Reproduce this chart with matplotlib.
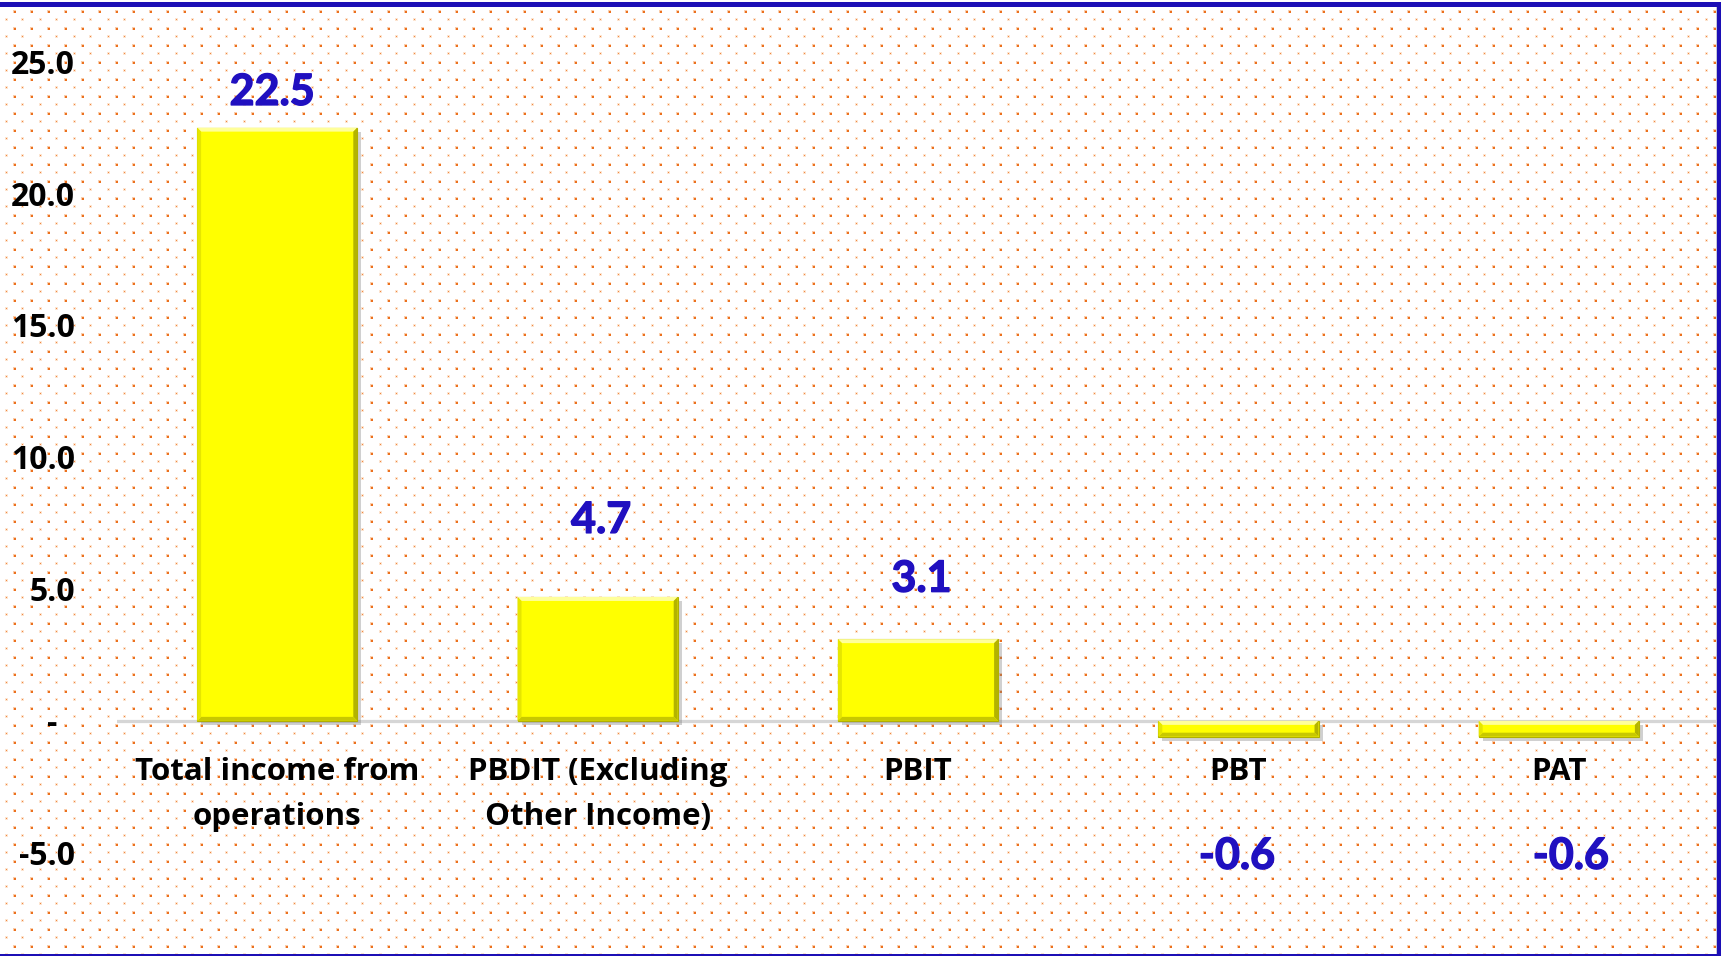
import matplotlib
matplotlib.use("Agg")
import matplotlib.pyplot as plt
import numpy as np
from matplotlib import patheffects as pe
from matplotlib.patches import Rectangle, Polygon
from matplotlib.transforms import blended_transform_factory, ScaledTranslation, IdentityTransform

# ---------------- data ----------------
categories = ["Total income from\noperations", "PBDIT (Excluding\nOther Income)", "PBIT", "PBT", "PAT"]
values = [22.5, 4.7, 3.1, -0.6, -0.6]
value_labels = ["22.5", "4.7", "3.1", "-0.6", "-0.6"]
yticks = [-5, 0, 5, 10, 15, 20, 25]
ytick_labels = ["-5.0", "-", "5.0", "10.0", "15.0", "20.0", "25.0"]

# ---------------- style / layout ----------------
W, H, DPI = 1721, 956, 100
FONT = "Lato"
CAT_FONT = "Open Sans"
label_base_y = [23.36, 7.13, 4.90, -5.61, -5.61]   # data-label baselines (data units)
label_dx_px = [-5, 3.5, 3.5, -1.5, 12]              # horizontal nudges (pixels)
BLUE_LBL = "#2010C0"
BAR_YELLOW = "#FFFF00"
BORDER_BLUE = "#1C0FB5"

fig = plt.figure(figsize=(W / DPI, H / DPI), dpi=DPI)
fig.patch.set_facecolor("white")

# dotted pattern background (texture)
img = np.ones((H, W, 3))
big = np.array([235, 112, 30]) / 255
big_halo = np.array([250, 205, 170]) / 255
small = np.array([240, 135, 65]) / 255
small_halo = np.array([252, 228, 208]) / 255
for yy in np.arange(10.7, H, 17.0):
    for xx in np.arange(14.0, W, 17.0):
        yi, xi = int(round(yy)), int(round(xx))
        img[max(yi - 1, 0):yi + 2, max(xi - 1, 0):xi + 2] = big_halo
        img[yi:yi + 2, xi:xi + 2] = big
for yy in np.arange(19.2, H, 17.0):
    for xx in np.arange(5.5, W, 17.0):
        yi, xi = int(round(yy)), int(round(xx))
        img[max(yi - 1, 0):yi + 2, max(xi - 1, 0):xi + 2] = small_halo
        img[yi:yi + 1, xi:xi + 1] = small
img = np.clip(img, 0, 1)
fig.figimage(img, xo=0, yo=0, origin="upper", zorder=0)

# main axes
ax_left, ax_right = 117 / W, 1719 / W
ax_bottom = 103.3 / H
ax_height = 791.0 / H
ax = fig.add_axes([ax_left, ax_bottom, ax_right - ax_left, ax_height])
ax.set_zorder(2)
ax.set_facecolor("none")
ax.patch.set_alpha(0)
ax.set_xlim(-0.5, len(categories) - 0.5)
ax.set_ylim(-5, 25)
for s in ax.spines.values():
    s.set_visible(False)
ax.set_xticks([])
ax.set_yticks([])

x = np.arange(len(categories))
ax.axhline(0, color="#D6D6D6", lw=2.3, zorder=1)

bars = ax.bar(x, values, width=0.5, color=BAR_YELLOW, edgecolor="#B0B000", linewidth=0.8, zorder=3)
for b in bars:
    b.set_path_effects([pe.SimplePatchShadow(offset=(3, -3), shadow_rgbFace="#7a7a7a", alpha=0.35),
                        pe.Normal()])

# bevel effect derived from each bar's geometry
fig.canvas.draw()
bw = 4.0
for b in bars:
    (x0, y0), (x1, y1) = ax.transData.transform([(b.get_x(), min(b.get_y(), b.get_y() + b.get_height())),
                                                 (b.get_x() + b.get_width(), max(b.get_y(), b.get_y() + b.get_height()))])
    bb = min(bw, (y1 - y0) / 2.0)
    polys = [
        ([(x0, y1), (x1, y1), (x1 - bb, y1 - bb), (x0 + bb, y1 - bb)], "#FFFF9A"),
        ([(x1, y1), (x1, y0), (x1 - bb, y0 + bb), (x1 - bb, y1 - bb)], "#B3B300"),
        ([(x0, y0), (x1, y0), (x1 - bb, y0 + bb), (x0 + bb, y0 + bb)], "#C8C800"),
        ([(x0, y0), (x0, y1), (x0 + bb, y1 - bb), (x0 + bb, y0 + bb)], "#E6E600"),
    ]
    for pts, col in polys:
        p = Polygon(pts, closed=True, facecolor=col, edgecolor="none", transform=IdentityTransform(), zorder=4)
        fig.add_artist(p)

# data labels
for i, (lab, by, dx) in enumerate(zip(value_labels, label_base_y, label_dx_px)):
    tr = ax.transData + ScaledTranslation(dx / DPI, 0, fig.dpi_scale_trans)
    t = ax.text(x[i], by, lab, transform=tr, ha="center", va="baseline", fontsize=31,
                fontweight="bold", color=BLUE_LBL, family=FONT, zorder=5)
    t.set_path_effects([pe.withStroke(linewidth=1.0, foreground=BLUE_LBL)])

# category labels (one text per line, 45 px apart)
for i, cat in enumerate(categories):
    for k, line in enumerate(cat.split("\n")):
        tr = ax.transData + ScaledTranslation(0, -45 * k / DPI, fig.dpi_scale_trans)
        ax.text(x[i], -2.26, line, transform=tr, ha="center", va="baseline", fontsize=22.5,
                fontweight="bold", color="black", family=CAT_FONT, zorder=5)

# y tick labels
ytr = blended_transform_factory(fig.transFigure, ax.transData) + ScaledTranslation(0, -12 / DPI, fig.dpi_scale_trans)
for v, lab in zip(yticks, ytick_labels):
    xr = 57 / W if lab == "-" else 75 / W
    fig.text(xr, v, lab, transform=ytr, ha="right", va="baseline", fontsize=23, fontweight="bold",
             color="black", family=CAT_FONT, zorder=5)

# blue frame
fig.add_artist(Rectangle((0, H - 7), W, 5, transform=IdentityTransform(), facecolor=BORDER_BLUE,
                         edgecolor="none", zorder=10))
fig.add_artist(Rectangle((W - 4, 0), 4, H - 2, transform=IdentityTransform(), facecolor=BORDER_BLUE,
                         edgecolor="none", zorder=10))
fig.add_artist(Rectangle((W - 5.5, 0), 1.2, H - 7, transform=IdentityTransform(), facecolor="#C8C8D8",
                         edgecolor="none", zorder=10))
fig.add_artist(Rectangle((0, 0), W, 1.6, transform=IdentityTransform(), facecolor=BORDER_BLUE,
                         edgecolor="none", zorder=10))

fig.savefig("out.png", dpi=DPI)
